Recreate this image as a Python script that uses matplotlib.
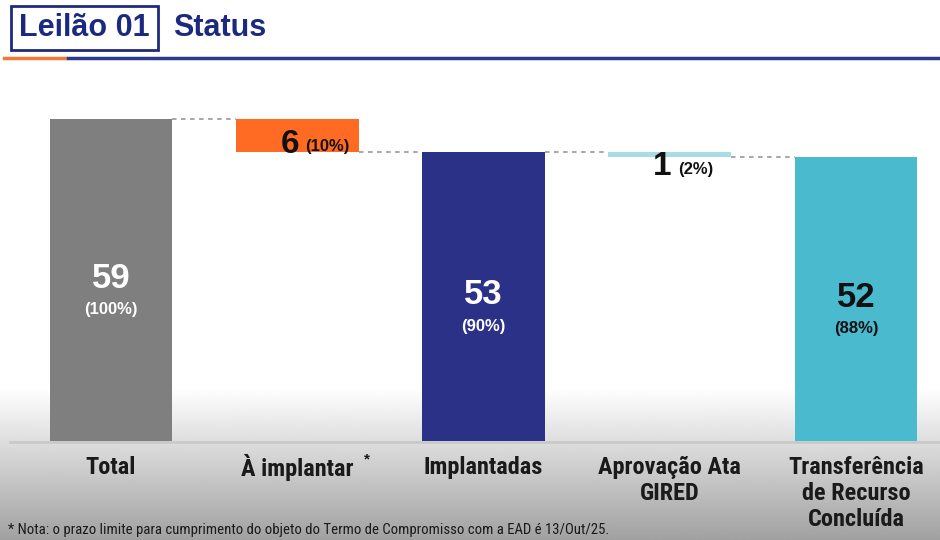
import matplotlib
matplotlib.use("Agg")
import matplotlib.pyplot as plt
import numpy as np
from matplotlib.lines import Line2D
from matplotlib.patches import Rectangle
from matplotlib import font_manager as fm

plt.rcParams['font.family'] = ['Liberation Sans', 'DejaVu Sans']

# ---- data ----
categories = ["Total", "À implantar", "Implantadas", "Aprovação Ata\nGIRED",
              "Transferência\nde Recurso\nConcluída"]
values = [59, 6, 53, 1, 52]
percents = [100, 10, 90, 2, 88]
kinds = ["total", "delta", "total", "delta", "total"]
colors = ["#7f7f7f", "#ff6b22", "#2c3188", "#a9dde6", "#4abbcf"]
label_colors = ["white", "#111111", "white", "#111111", "#111111"]
title_box = "Leilão 01"
title_text = "Status"
footnote = "* Nota: o prazo limite para cumprimento do objeto do Termo de Compromisso com a EAD é 13/Out/25."

# pick a narrow font if available
available = {f.name for f in fm.fontManager.ttflist}
narrow_name = None
for cand in ['Liberation Sans Narrow', 'Roboto Condensed', 'Open Sans Condensed',
             'DejaVu Sans Condensed']:
    if cand in available:
        narrow_name = cand
        break
if narrow_name:
    narrow = [narrow_name, 'Liberation Sans', 'DejaVu Sans']
    cat_size, foot_size = 17.5, 10.6
else:
    narrow = ['Liberation Sans', 'DejaVu Sans']
    cat_size, foot_size = 15.5, 9.5

W, H = 940, 540
fig = plt.figure(figsize=(W / 100, H / 100), dpi=100)

# background gradient (figure level)
bg = fig.add_axes([0, 0, 1, 1], zorder=-10)
bg.set_xlim(0, W); bg.set_ylim(H, 0); bg.axis('off')
ys = np.linspace(0, H, 541)
g = np.ones_like(ys)
start = 388
mask = ys > start
g[mask] = 1 - (ys[mask] - start) / (H - start) * 0.37
img = np.repeat(g[:, None], 2, axis=1)
bg.imshow(img, cmap='gray', vmin=0, vmax=1, extent=[0, W, H, 0], aspect='auto',
          interpolation='bilinear')

# header
bg.add_patch(Rectangle((11, 6), 147, 44, fill=False, edgecolor="#1e2a7a", lw=2))
bg.text(84, 28, title_box, ha='center', va='center', fontsize=22, fontweight='bold',
        color="#1b2a80")
bg.text(173, 28, title_text, ha='left', va='center', fontsize=22, fontweight='bold',
        color="#1b2a80")
bg.add_line(Line2D([4, 65], [57.5, 57.5], color="#f07a3a", lw=2.5))
bg.add_line(Line2D([68, 940], [57.5, 57.5], color="#2b3a8f", lw=2.5))

# footnote
bg.text(8, 530, footnote, ha='left', va='center', fontsize=foot_size, color="#1a1a1a",
        family=narrow)

# baseline
bg.add_line(Line2D([10, 940], [442, 442], color="#c9c9c9", lw=2))

# main axes
px_per_unit = 322 / 59
y0_px, ytop_px = 441, 60
ax = fig.add_axes([0, (H - y0_px) / H, 1, (y0_px - ytop_px) / H])
ax.patch.set_alpha(0)
spacing = 186.25
ax.set_xlim((0 - 111) / spacing, (W - 111) / spacing)
ax.set_ylim(0, (y0_px - ytop_px) / px_per_unit)
ax.axis('off')

x = np.arange(len(categories))
bottoms, tops = [], []
running = 0
for v, k in zip(values, kinds):
    if k == "total":
        b = 0
        running = v
    else:
        b = running - v
        running = b
    bottoms.append(b)
    tops.append(b + v)

width = 0.66
ax.bar(x, values, width=width, bottom=bottoms, color=colors, zorder=2)

# connectors
for i in range(len(x) - 1):
    if kinds[i + 1] == "delta":
        yl = tops[i]
    else:
        yl = bottoms[i] if kinds[i] == "delta" else tops[i]
    ax.plot([x[i] + width / 2, x[i + 1] - width / 2], [yl, yl], ls=(0, (2.5, 2.5)),
            color="#a0a0a0", lw=1.3, zorder=1)

# value labels
for i in range(len(x)):
    num = f"{values[i]}"
    pct = f"({percents[i]}%)"
    if kinds[i] == "total":
        mid = (bottoms[i] + tops[i]) / 2
        ax.annotate(num, (x[i], mid), xytext=(0, 1), textcoords='offset points',
                    ha='center', va='center', fontsize=25, fontweight='bold',
                    color=label_colors[i], zorder=3)
        ax.annotate(pct, (x[i], mid), xytext=(0, -21.5), textcoords='offset points',
                    ha='center', va='center', fontsize=12, fontweight='bold',
                    color=label_colors[i], zorder=3)
    else:
        if values[i] >= 3:
            yref, dy = bottoms[i], 5
        else:
            yref, dy = bottoms[i], -7
        ax.annotate(num, (x[i], yref), xytext=(1.5, dy), textcoords='offset points',
                    ha='right', va='center', fontsize=24, fontweight='bold',
                    color=label_colors[i], zorder=3)
        ax.annotate(pct, (x[i], yref), xytext=(6, dy - 1.5), textcoords='offset points',
                    ha='left', va='center', fontsize=12, fontweight='bold',
                    color=label_colors[i], zorder=3)

# category labels (one text per line, 26 px apart)
pt = 72 / 100
for i, c in enumerate(categories):
    for k, line in enumerate(c.split("\n")):
        ax.annotate(line, (x[i], 0), xytext=(0, -(24 + 26 * k) * pt),
                    textcoords='offset points', ha='center', va='center_baseline',
                    fontsize=cat_size, fontweight='bold', color="#1a1a1a",
                    family=narrow, annotation_clip=False)
    if i == 1:
        ax.annotate("*", (x[i], 0), xytext=(50, -13), textcoords='offset points',
                    ha='center', va='center', fontsize=11, fontweight='bold',
                    color="#1a1a1a", annotation_clip=False)

fig.savefig("out.png", dpi=100)
